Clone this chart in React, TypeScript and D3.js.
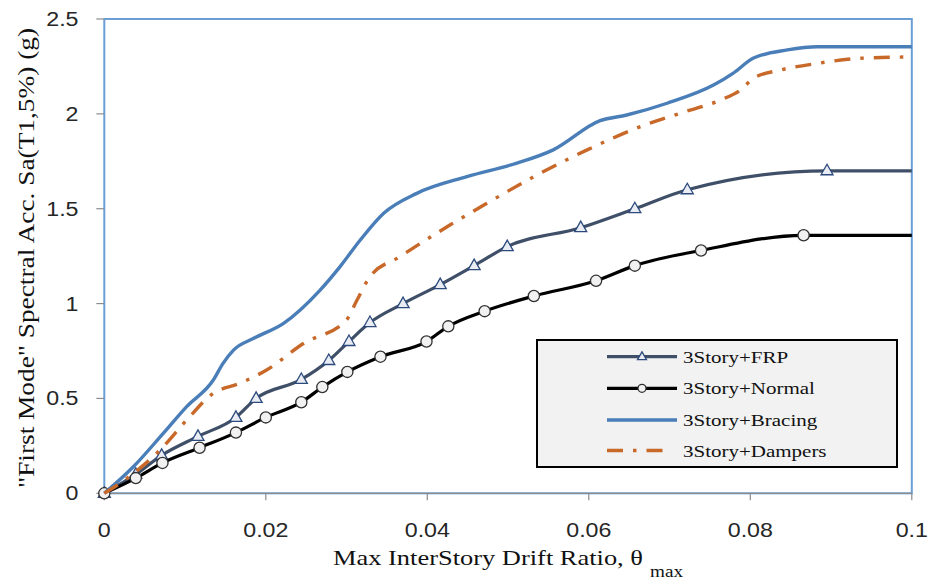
import React from "react";
import * as d3 from "d3";

const xTicks = [0, 0.02, 0.04, 0.06, 0.08, 0.1];
const xTickLabels = ["0", "0.02", "0.04", "0.06", "0.08", "0.1"];
const yTicks = [0, 0.5, 1, 1.5, 2, 2.5];
const yTickLabels = ["0", "0.5", "1", "1.5", "2", "2.5"];

const seriesNames = ["3Story+FRP", "3Story+Normal", "3Story+Bracing", "3Story+Dampers"];

const frpX = [0, 0.0039, 0.0071, 0.0116, 0.0163, 0.0188, 0.0244, 0.0278, 0.0303, 0.0329, 0.037, 0.0416, 0.0458, 0.0499, 0.059, 0.0657, 0.0722, 0.0895, 0.1];
const frpY = [0, 0.1, 0.2, 0.3, 0.4, 0.5, 0.6, 0.7, 0.8, 0.9, 1.0, 1.1, 1.2, 1.3, 1.4, 1.5, 1.6, 1.7, 1.7];

const normalX = [0, 0.0039, 0.0072, 0.0118, 0.0163, 0.02, 0.0244, 0.027, 0.0301, 0.0342, 0.0399, 0.0426, 0.0471, 0.0532, 0.0609, 0.0657, 0.0739, 0.0866, 0.1];
const normalY = [0, 0.08, 0.16, 0.24, 0.32, 0.4, 0.48, 0.56, 0.64, 0.72, 0.8, 0.88, 0.96, 1.04, 1.12, 1.2, 1.28, 1.36, 1.36];

const bracingX = [0, 0.0036, 0.0073, 0.0102, 0.0135, 0.0147, 0.016, 0.0185, 0.0222, 0.0267, 0.0292, 0.0317, 0.0346, 0.0387, 0.0449, 0.0511, 0.0556, 0.0614, 0.0647, 0.0697, 0.0755, 0.0779, 0.0804, 0.0846, 0.0883, 0.1];
const bracingY = [0, 0.14, 0.316, 0.457, 0.597, 0.685, 0.755, 0.817, 0.896, 1.07, 1.195, 1.335, 1.476, 1.581, 1.669, 1.74, 1.81, 1.964, 1.994, 2.056, 2.153, 2.215, 2.294, 2.337, 2.354, 2.354];

const dampersX = [0, 0.0028, 0.0069, 0.0102, 0.0135, 0.0168, 0.0201, 0.0247, 0.03, 0.0313, 0.0329, 0.0366, 0.0428, 0.0474, 0.0532, 0.0598, 0.0664, 0.0713, 0.0763, 0.0788, 0.0804, 0.0837, 0.0883, 0.0936, 0.1];
const dampersY = [0, 0.079, 0.228, 0.386, 0.527, 0.58, 0.65, 0.791, 0.914, 1.019, 1.142, 1.247, 1.414, 1.529, 1.669, 1.81, 1.933, 2.003, 2.073, 2.126, 2.188, 2.231, 2.266, 2.293, 2.3];

const W = 931;
const H = 583;
const left = 104.3, right = 911.8, top = 19, bottom = 493.3;

const x = d3.scaleLinear().domain([0, 0.1]).range([left, right]);
const y = d3.scaleLinear().domain([0, 2.5]).range([bottom, top]);

const zip = (xs: number[], ys: number[]) => xs.map((v, i) => [v, ys[i]] as [number, number]);

const line = d3
  .line<[number, number]>()
  .x((d) => x(d[0]))
  .y((d) => y(d[1]))
  .curve(d3.curveMonotoneX);

const C_FRP = "#3f4f68";
const C_NORMAL = "#000000";
const C_BRACING = "#4a7eb8";
const C_DAMPERS = "#c8692a";
const DASH = "16 10 3.5 10";

const SX = 1.16;

function Triangle({ cx, cy, s = 1 }: { cx: number; cy: number; s?: number }) {
  const w = 12 * s, h = 10.5 * s;
  const p = `M${cx},${cy - h * 0.62} L${cx + w / 2},${cy + h * 0.38} L${cx - w / 2},${cy + h * 0.38} Z`;
  return <path d={p} fill="#e9edf3" stroke="#2c4a7c" strokeWidth={1.3} strokeLinejoin="miter" />;
}

function Circle({ cx, cy, r = 5.6 }: { cx: number; cy: number; r?: number }) {
  return <circle cx={cx} cy={cy} r={r} fill="#f1f1f1" stroke="#303030" strokeWidth={1.3} />;
}

export default function App() {
  const frp = zip(frpX, frpY);
  const normal = zip(normalX, normalY);
  const bracing = zip(bracingX, bracingY);
  const dampers = zip(dampersX, dampersY);

  const legendX0 = 537, legendY0 = 340, legendW = 360, legendH = 127;
  const rows = [356.7, 388.3, 420, 450.5];
  const lx1 = 607, lx2 = 677, lmid = 642, ltx = 683;

  return (
    <div style={{ position: "absolute", left: 0, top: 0 }}>
      <svg width={W} height={H} viewBox={`0 0 ${W} ${H}`} style={{ display: "block", background: "#fff" }}>
        <rect x={0} y={0} width={W} height={H} fill="#fff" />
        <rect x={left} y={top} width={right - left} height={bottom - top} fill="none" stroke="#6a9fd6" strokeWidth={2} />
        <line x1={left} x2={right} y1={bottom} y2={bottom} stroke="#8c8c8c" strokeWidth={1.3} />
        <g fontFamily="Liberation Sans" fontSize={20} fill="#262626">
          {xTicks.map((t, i) => (
            <g key={"xt" + i}>
              <line x1={x(t)} x2={x(t)} y1={bottom} y2={bottom + 7} stroke="#8c8c8c" strokeWidth={1.2} />
              <text transform={`translate(${x(t)},${537}) scale(${SX},1)`} textAnchor="middle">
                {xTickLabels[i]}
              </text>
            </g>
          ))}
          {yTicks.map((t, i) => (
            <g key={"yt" + i}>
              <line x1={left - 8} x2={left} y1={y(t)} y2={y(t)} stroke="#8c8c8c" strokeWidth={1.2} />
              <text transform={`translate(${78.5},${y(t) + 7}) scale(${SX},1)`} textAnchor="end">
                {yTickLabels[i]}
              </text>
            </g>
          ))}
        </g>

        <path d={line(frp) || ""} fill="none" stroke={C_FRP} strokeWidth={3.2} />
        {frp.filter((d) => d[0] < 0.1).map((d, i) => (
          <Triangle key={"f" + i} cx={x(d[0])} cy={y(d[1])} />
        ))}
        <path d={line(normal) || ""} fill="none" stroke={C_NORMAL} strokeWidth={3.2} />
        {normal.filter((d) => d[0] < 0.1).map((d, i) => (
          <Circle key={"n" + i} cx={x(d[0])} cy={y(d[1])} />
        ))}
        <path d={line(bracing) || ""} fill="none" stroke={C_BRACING} strokeWidth={3.4} />
        <path d={line(dampers) || ""} fill="none" stroke={C_DAMPERS} strokeWidth={3.4} strokeDasharray={DASH} />

        <rect x={legendX0} y={legendY0} width={legendW} height={legendH} fill="#f2f2f2" stroke="#000" strokeWidth={2} />
        <line x1={lx1} x2={lx2} y1={rows[0]} y2={rows[0]} stroke={C_FRP} strokeWidth={3.2} />
        <Triangle cx={lmid} cy={rows[0]} s={0.75} />
        <line x1={lx1} x2={lx2} y1={rows[1]} y2={rows[1]} stroke={C_NORMAL} strokeWidth={3.2} />
        <Circle cx={lmid} cy={rows[1]} r={4} />
        <line x1={lx1} x2={lx2} y1={rows[2]} y2={rows[2]} stroke={C_BRACING} strokeWidth={3.4} />
        <line x1={lx1} x2={lx2 - 5} y1={rows[3]} y2={rows[3]} stroke={C_DAMPERS} strokeWidth={3.4} strokeDasharray={DASH} />

        <g fontFamily="Liberation Serif" fill="#111">
          {seriesNames.map((s, i) => (
            <text key={"lg" + i} transform={`translate(${ltx},${rows[i] + 6}) scale(1.2,1)`} fontSize={17.5}>
              {s}
            </text>
          ))}
          <text x={333} y={565} fontSize={22} textLength={310} lengthAdjust="spacingAndGlyphs">
            Max InterStory Drift Ratio, θ
          </text>
          <text x={650} y={577} fontSize={16} textLength={33} lengthAdjust="spacingAndGlyphs">
            max
          </text>
          <text
            transform={`translate(${34},${488}) rotate(-90)`}
            fontSize={22.5}
            textLength={460}
            lengthAdjust="spacingAndGlyphs"
          >
            "First Mode" Spectral Acc. Sa(T1,5%) (g)
          </text>
        </g>
      </svg>
    </div>
  );
}
